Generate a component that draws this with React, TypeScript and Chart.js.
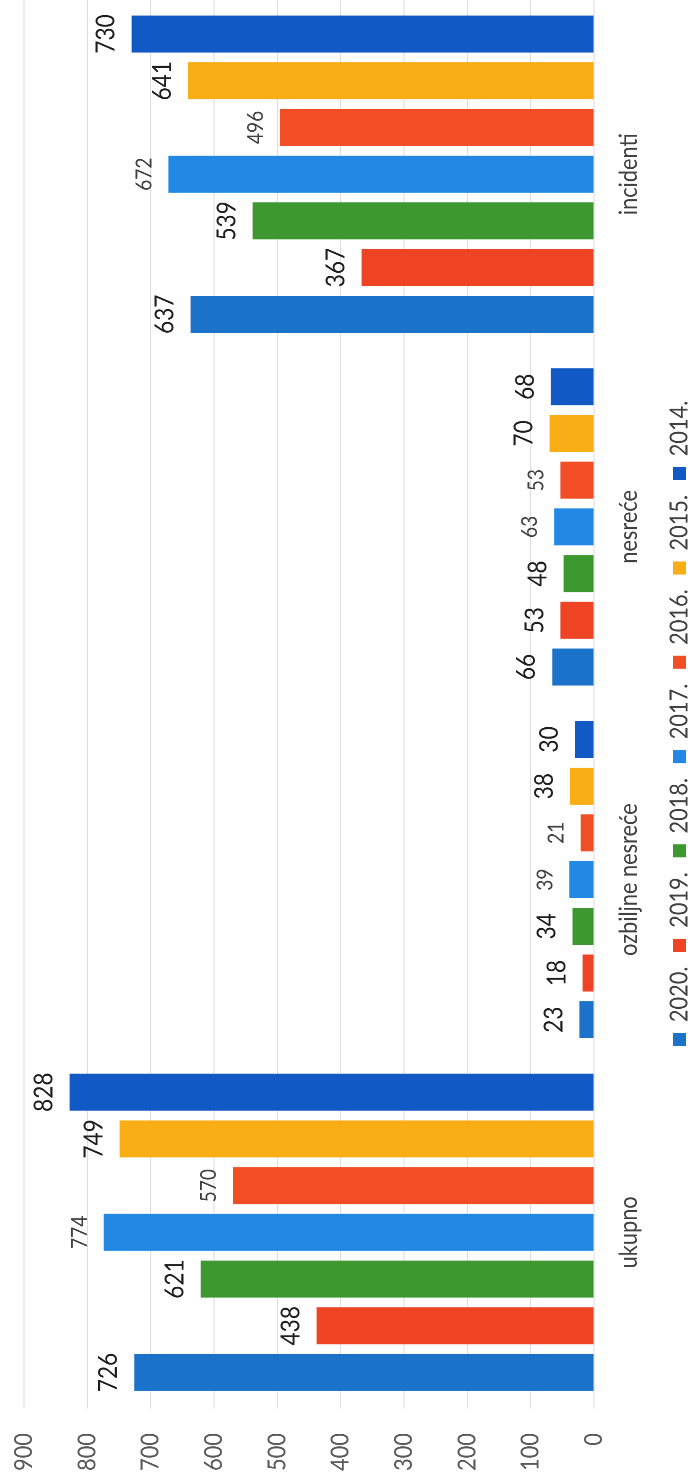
import { useEffect, useRef } from "react";
import { Chart, registerables } from "chart.js";

Chart.register(...registerables);

const categories = ["ukupno", "ozbiljne nesreće", "nesreće", "incidenti"];
const years = ["2020.", "2019.", "2018.", "2017.", "2016.", "2015.", "2014."];
const values2020 = [726, 23, 66, 637];
const values2019 = [438, 18, 53, 367];
const values2018 = [621, 34, 48, 539];
const values2017 = [774, 39, 63, 672];
const values2016 = [570, 21, 53, 496];
const values2015 = [749, 38, 70, 641];
const values2014 = [828, 30, 68, 730];
const series = [values2020, values2019, values2018, values2017, values2016, values2015, values2014];
const colors = ["#1b72c9", "#ee4423", "#3d982f", "#2189e3", "#f24e26", "#f9ae16", "#1159c4"];
const smallLabelYears = ["2017.", "2016."];
const yMax = 900;
const yStep = 100;

// the chart is drawn upright, then turned a quarter turn to the left
const SX = 0.87;
const W = 1715;
const H = 702;
const FONT = "Lato, 'Open Sans', sans-serif";

Chart.defaults.font.family = FONT;

const barLabels = {
  id: "barLabels",
  afterDatasetsDraw(chart: any) {
    const { ctx } = chart;
    ctx.save();
    ctx.textAlign = "center";
    ctx.textBaseline = "alphabetic";
    chart.data.datasets.forEach((ds: any, i: number) => {
      const meta = chart.getDatasetMeta(i);
      const small = smallLabelYears.includes(ds.label);
      ctx.font = (small ? "22px " : "26px ") + FONT;
      ctx.fillStyle = small ? "#404040" : "#1e1e1e";
      meta.data.forEach((bar: any, j: number) => {
        ctx.fillText(String(ds.data[j]), bar.x, bar.y - 17);
      });
    });
    ctx.restore();
  },
};

// nudge the legend row so it starts where the reference one does
const legendShift = {
  id: "legendShift",
  afterLayout(chart: any) {
    const l = chart.legend;
    if (l) {
      l.left += 19;
      l.right += 19;
    }
  },
};

export default function App() {
  const canvasRef = useRef<HTMLCanvasElement>(null);

  useEffect(() => {
    if (!canvasRef.current) return;
    const chart = new Chart(canvasRef.current, {
      type: "bar",
      data: {
        labels: categories,
        datasets: years.map((y, i) => ({
          label: y,
          data: series[i],
          backgroundColor: colors[i],
          borderWidth: 0,
          barPercentage: 0.792,
          categoryPercentage: 0.927,
        })),
      },
      options: {
        animation: false,
        responsive: true,
        maintainAspectRatio: false,
        devicePixelRatio: 2,
        layout: { padding: { top: 24, right: 9, left: 0, bottom: 0 } },
        plugins: {
          legend: {
            position: "bottom",
            labels: {
              boxWidth: 15,
              boxHeight: 13,
              padding: 17,
              color: "#404040",
              font: { family: FONT, size: 25 },
            },
          },
          tooltip: { enabled: false },
        },
        scales: {
          x: {
            grid: { display: false, drawTicks: false },
            border: { display: false },
            ticks: {
              color: "#404040",
              font: { family: FONT, size: 25 },
              padding: 20,
              maxRotation: 0,
              autoSkip: false,
            },
            afterFit: (s: any) => {
              s.height = 56;
            },
          },
          y: {
            min: 0,
            max: yMax,
            ticks: {
              stepSize: yStep,
              color: "#595959",
              font: { family: FONT, size: 25 },
              padding: 28,
            },
            grid: { color: "#dcdce4", drawTicks: false },
            border: { display: false },
            afterFit: (s: any) => {
              s.width = 84.25;
              s.paddingTop = 0;
              s.paddingBottom = 0;
            },
          },
        },
      },
      plugins: [barLabels, legendShift],
    });
    return () => chart.destroy();
  }, []);

  return (
    <div
      style={{
        position: "absolute",
        left: 0,
        top: 0,
        width: 688,
        height: 1482,
        overflow: "hidden",
        background: "#fff",
      }}
    >
      <div
        style={{
          position: "absolute",
          left: 0,
          top: 0,
          width: W,
          height: H,
          transformOrigin: "0 0",
          transform: `translateY(1482px) rotate(-90deg) scaleX(${SX})`,
        }}
      >
        <canvas ref={canvasRef} />
      </div>
    </div>
  );
}
